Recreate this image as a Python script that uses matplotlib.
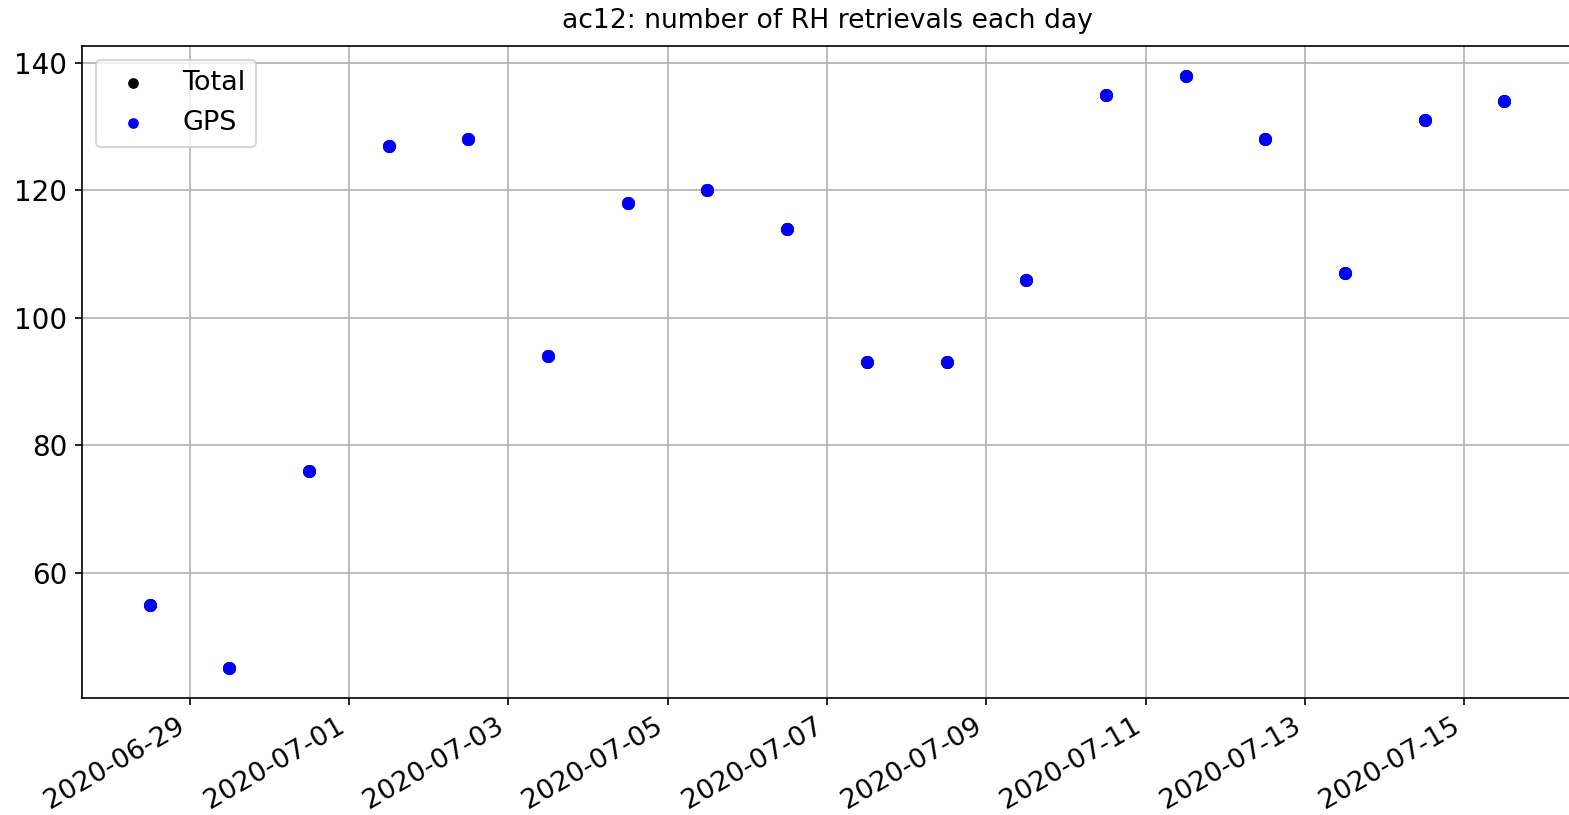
import datetime as dt
import matplotlib
matplotlib.use("Agg")
import matplotlib.pyplot as plt
import matplotlib.dates as mdates

# Daily counts of RH retrievals, plotted at noon of each day
days = ["2020-06-28", "2020-06-29", "2020-06-30", "2020-07-01", "2020-07-02",
        "2020-07-03", "2020-07-04", "2020-07-05", "2020-07-06", "2020-07-07",
        "2020-07-08", "2020-07-09", "2020-07-10", "2020-07-11", "2020-07-12",
        "2020-07-13", "2020-07-14", "2020-07-15"]
total_counts = [55, 45, 76, 127, 128, 94, 118, 120, 114, 93,
                93, 106, 135, 138, 128, 107, 131, 134]
gps_counts = [55, 45, 76, 127, 128, 94, 118, 120, 114, 93,
              93, 106, 135, 138, 128, 107, 131, 134]
tick_days = ["2020-06-29", "2020-07-01", "2020-07-03", "2020-07-05", "2020-07-07",
             "2020-07-09", "2020-07-11", "2020-07-13", "2020-07-15"]

times = [dt.datetime.strptime(d, "%Y-%m-%d") + dt.timedelta(hours=12) for d in days]
ticks = [dt.datetime.strptime(d, "%Y-%m-%d") for d in tick_days]

dpi = 150
fig = plt.figure(figsize=(1569 / dpi, 815 / dpi), dpi=dpi)
W, H = 1569, 815
left, right, top, bottom = 82, 1572, 46, 698
ax = fig.add_axes([left / W, 1 - bottom / H, (right - left) / W, (bottom - top) / H])

ax.scatter(times, total_counts, s=28, color="black", label="Total", zorder=3)
ax.scatter(times, gps_counts, s=28, color="blue", label="GPS", zorder=3)

ax.set_title("ac12: number of RH retrievals each day", fontsize=12.8, pad=8.5)
ax.grid(True)
ax.set_axisbelow(True)
ax.legend(loc="upper left", fontsize=13, markerscale=0.78)

ax.set_xticks(mdates.date2num(ticks))
ax.xaxis.set_major_formatter(mdates.DateFormatter("%Y-%m-%d"))
ax.tick_params(axis="x", labelsize=13)
ax.tick_params(axis="y", labelsize=13.3)
plt.setp(ax.get_xticklabels(), rotation=30, ha="right")

fig.savefig("out.png", dpi=dpi)
